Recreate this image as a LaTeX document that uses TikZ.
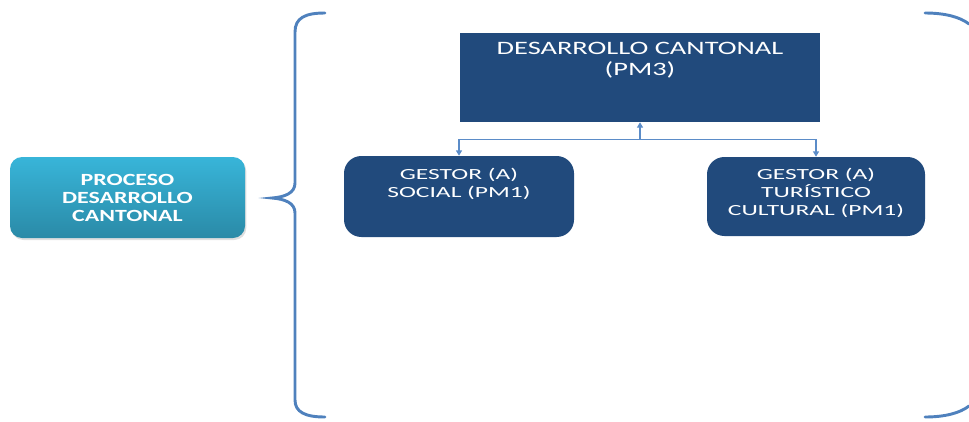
\documentclass[tikz,border=0pt]{standalone}
\usepackage{fontspec}
\setmainfont{Carlito}
\newfontfamily\wfr[FakeStretch=1.65]{Carlito}
\newfontfamily\wft[FakeStretch=1.5]{Carlito}
\newfontfamily\wfb[FakeStretch=1.4]{Carlito}
\usetikzlibrary{arrows.meta,shadows}
\definecolor{navy}{HTML}{214A7C}
\definecolor{bracec}{HTML}{4F81BD}
\definecolor{connc}{HTML}{5B8CC8}
\definecolor{cyantop}{HTML}{38B5D9}
\definecolor{cyanbot}{HTML}{2A8AA7}
\begin{document}
\begin{tikzpicture}[x=0.75pt,y=-0.75pt,
  darkbox/.style={fill=navy,draw=none,inner sep=0pt},
  boxtext/.style={text=white,align=center,inner sep=0pt,anchor=north,
    font=\wfr\fontsize{11.6}{14}\selectfont},
  bracestyle/.style={draw=bracec,line width=2.2pt,line cap=round},
  conn/.style={draw=connc,line width=0.9pt}
]
\useasboundingbox (0,0) rectangle (969,421);

% left process box
\node[rounded corners=9pt,top color=cyantop,bottom color=cyanbot,
  minimum width=176.25pt,minimum height=60.75pt,inner sep=0pt,
  drop shadow={opacity=0.25,shadow xshift=1pt,shadow yshift=-1.5pt},
  text=white,align=center,font=\wfb\bfseries\fontsize{12.8}{13.5}\selectfont]
  (proc) at (127.5,197.5) {PROCESO\\DESARROLLO\\CANTONAL};

% brace left
\draw[bracestyle] (325,13) .. controls (305,13) and (295,18) .. (295,32)
  -- (295,183) .. controls (295,193) and (285,197) .. (272,198)
  .. controls (285,199) and (295,203) .. (295,213)
  -- (295,400) .. controls (295,412) and (305,417) .. (325,417);
% brace right (clipped)
\draw[bracestyle] (925,13) .. controls (945,13) and (960,17) .. (969,24);
\draw[bracestyle] (925,417) .. controls (945,417) and (960,413) .. (969,406);

% top box
\node[darkbox,minimum width=270pt,minimum height=66.75pt] (top) at (640,77.5) {};
\node[boxtext,font=\wft\fontsize{14.2}{15.75}\selectfont] (toptext) at ([yshift=-7pt]top.north) {DESARROLLO CANTONAL\\(PM3)};

% gestor boxes
\node[darkbox,rounded corners=13pt,minimum width=172.5pt,minimum height=60.75pt] (soc) at (459,196.5) {};
\node[boxtext] (soctext) at ([yshift=-8.8pt]soc.north) {GESTOR (A)\\SOCIAL (PM1)};

\node[darkbox,rounded corners=13pt,minimum width=163.5pt,minimum height=59.25pt] (tur) at (816,196.5) {};
\node[boxtext,font=\wfr\fontsize{11.6}{13.6}\selectfont] (turtext) at ([yshift=-8.5pt]tur.north) {GESTOR (A)\\TURÍSTICO\\CULTURAL (PM1)};

% connectors
\draw[conn,{Triangle[width=4.5pt,length=4pt]}-] (top.south) -- ++(0,17) coordinate (j);
\draw[conn,-{Triangle[width=4.5pt,length=4pt]}] (j) -| (soc.north);
\draw[conn,-{Triangle[width=4.5pt,length=4pt]}] (j) -| (tur.north);
\end{tikzpicture}
\end{document}
